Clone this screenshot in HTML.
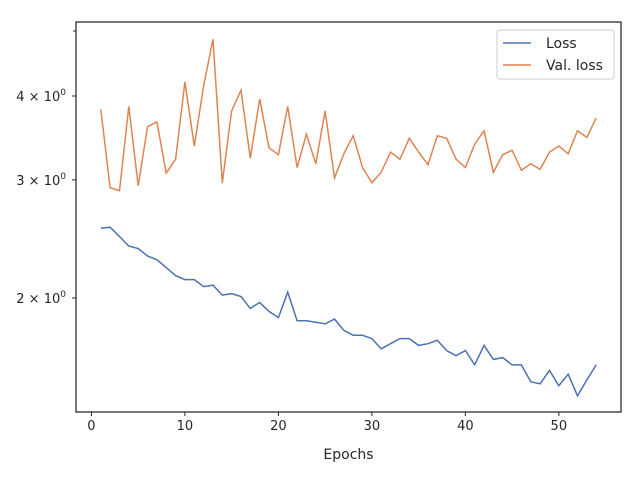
<!DOCTYPE html>
<html><head><meta charset="utf-8"><style>
body{margin:0;background:#fff;}
svg text{font-family:"DejaVu Sans","Liberation Sans",sans-serif;fill:#262626;}
</style></head><body>
<svg id="chart" width="640" height="480" viewBox="0 0 640 480" xmlns="http://www.w3.org/2000/svg">
<rect width="640" height="480" fill="#fff"/>
<g id="plot"></g>
</svg>
<script>
const epochs = Array.from({length:54},(_,i)=>i+1);
const lossValues = [2.54,2.55,2.47,2.39,2.37,2.31,2.28,2.22,2.16,2.13,2.13,2.08,2.09,2.02,2.03,2.01,1.93,1.97,1.91,1.87,2.04,1.85,1.85,1.84,1.83,1.86,1.79,1.76,1.76,1.74,1.68,1.71,1.74,1.74,1.70,1.71,1.73,1.67,1.64,1.67,1.59,1.70,1.62,1.63,1.59,1.59,1.50,1.49,1.56,1.48,1.54,1.43,1.51,1.59];
const valLossValues = [3.82,2.92,2.89,3.86,2.94,3.60,3.66,3.07,3.22,4.20,3.37,4.14,4.86,2.97,3.80,4.08,3.23,3.96,3.35,3.27,3.86,3.13,3.51,3.17,3.80,3.02,3.28,3.49,3.13,2.97,3.08,3.30,3.22,3.46,3.30,3.16,3.49,3.46,3.22,3.13,3.39,3.55,3.08,3.27,3.32,3.10,3.17,3.11,3.30,3.37,3.28,3.55,3.47,3.71];
const xTicks = [0,10,20,30,40,50];
const yTicks = [2,3,4];
const yTickLabels = ["2","3","4"];
const yMinorTicks = [5];

const NS="http://www.w3.org/2000/svg";
const g=document.getElementById('plot');
const L=76,R=621,T=22,B=412;
const xMin=-1.65,xMax=56.65;
function xs(v){return L+(v-xMin)/(xMax-xMin)*(R-L);}
function ys(v){return 298-Math.log10(v/2)*671;}
function mk(tag,attrs){const e=document.createElementNS(NS,tag);for(const k in attrs)e.setAttribute(k,attrs[k]);g.appendChild(e);return e;}

xTicks.forEach(t=>{
  const x=xs(t);
  const tk=mk('line',{x1:x,x2:x,y1:B,y2:B+4,stroke:'#262626','stroke-width':1});
  
  
  const tx=mk('text',{x:x,y:B+18,'text-anchor':'middle','font-size':13});
  tx.textContent=t;
  
  
});
yTicks.forEach((t,i)=>{
  const y=ys(t);
  const tk=mk('line',{x1:L-4,x2:L,y1:y,y2:y,stroke:'#262626','stroke-width':1});
  
  
  const tx=mk('text',{x:L-10,y:y+5,'text-anchor':'end','font-size':13});
  tx.innerHTML=yTickLabels[i]+' × 10<tspan dy="-6" font-size="9">0</tspan>';
  
  
});
yMinorTicks.forEach(t=>{
  const y=ys(t);
  const tk=mk('line',{x1:L-3,x2:L,y1:y,y2:y,stroke:'#262626','stroke-width':1});
  
  
});

function series(vals,color,name){
  const pts=vals.map((v,i)=>xs(epochs[i]).toFixed(1)+','+ys(v).toFixed(1)).join(' ');
  const p=mk('polyline',{points:pts,fill:'none',stroke:color,'stroke-width':1.5});
  
  
}
series(lossValues,'#4c72b0','loss-line');
series(valLossValues,'#dd8452','val-loss-line');

const fr=mk('rect',{x:L,y:T,width:R-L,height:B-T,fill:'none',stroke:'#262626','stroke-width':1.25});



const xl=mk('text',{x:(L+R)/2,y:459,'text-anchor':'middle','font-size':14});
xl.textContent='Epochs';



const lg=mk('rect',{x:497,y:30,width:117,height:49,rx:3,fill:'#fff','fill-opacity':0.8,stroke:'#ccc','stroke-width':1});


[['Loss','#4c72b0',43],['Val. loss','#dd8452',65]].forEach(([lab,c,y])=>{
  const ln=mk('line',{x1:503,x2:531,y1:y,y2:y,stroke:c,'stroke-width':1.5});
  
  
  const t=mk('text',{x:546,y:y+5,'font-size':14});
  t.textContent=lab;
  
  
});
</script>
</body></html>
